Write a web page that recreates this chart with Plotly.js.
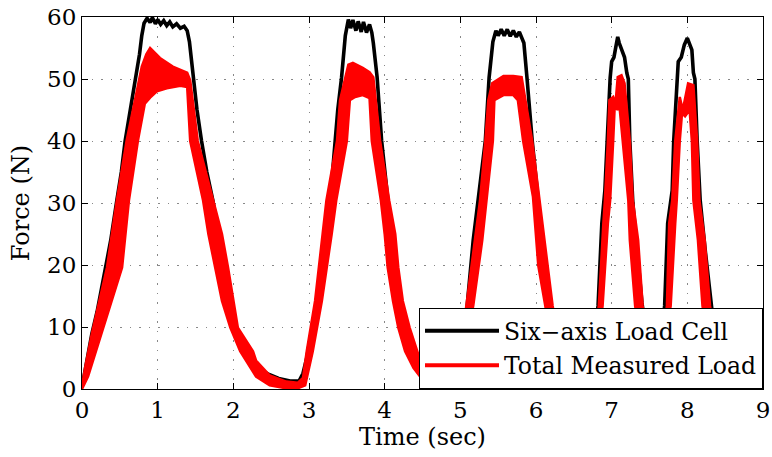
<!DOCTYPE html>
<html>
<head>
<meta charset="utf-8">
<script src="https://cdn.plot.ly/plotly-3.0.1.min.js"></script>
<style>html,body{margin:0;padding:0;background:#fff;}#chart{width:772px;height:457px;}</style>
</head>
<body>
<div id="chart"></div>
<script>
// Series names
const seriesNames = ['Six\u2212axis Load Cell', 'Total Measured Load'];

// Six-axis load cell (black) — time (s) and force (N)
const blackT = [0,0.04,0.08,0.13,0.2,0.3,0.38,0.46,0.52,0.57,0.64,0.71,0.76,0.79,0.82,0.86,
  0.9,0.93,0.97,1.0,1.04,1.08,1.12,1.16,1.2,1.25,1.3,1.35,1.39,
  1.42,1.47,1.52,1.58,1.65,1.73,1.8,1.87,1.95,2.02,2.1,2.18,2.3,2.48,2.6,2.75,2.87,2.92,
  2.97,3.02,3.06,3.1,3.14,3.19,3.23,3.28,3.34,3.38,3.43,3.48,3.52,
  3.55,3.58,3.62,3.65,3.69,3.72,3.76,3.8,3.83,
  3.85,3.9,3.96,4.05,4.1,4.16,4.22,4.3,4.38,4.45,4.55,4.7,4.85,4.95,5.02,
  5.09,5.17,5.25,5.33,5.38,5.43,5.47,
  5.5,5.54,5.58,5.62,5.66,5.7,5.74,5.78,5.81,
  5.84,5.88,5.95,6.03,6.1,6.17,6.22,6.3,6.4,6.55,6.68,6.75,
  6.82,6.87,6.91,6.94,6.98,7.0,7.03,7.06,7.08,7.1,7.13,7.17,7.2,7.22,7.24,7.28,7.34,7.4,7.45,7.5,7.58,7.63,7.68,
  7.7,7.74,7.8,7.82,7.86,7.88,7.92,7.96,8.0,8.03,8.06,8.08,8.1,8.13,8.17,8.24,8.31,8.36,8.42,8.5,8.6];
const blackF = [0.3,2.8,5.2,8.9,12.5,18.5,24,30.4,35,40,45,50,54,57,59,59.8,
  59.1,59.9,58.9,59.6,58.8,59.4,58.6,59.2,58.4,58.9,58.2,58.5,57.8,
  56,50,45,40,35,30.4,25,20,15,10,7,5,3.5,2.3,1.7,1.3,1.3,2.5,
  5,8.5,11.5,14,17,22,25,30.4,40,45,50.2,57,59.6,
  58.2,59.5,57.8,59.3,57.6,59.2,57.5,58.8,57.5,
  55.8,50.3,40,30.4,24,19,14,9.5,6,3.5,2,1.2,1,3,8,
  13.4,24,32,40,50.2,56,57.8,
  57,58,57,58,56.9,57.8,56.8,57.6,56.8,
  55.8,50.3,40,30.4,22,15,11,6,3,1.5,2,6,
  13.4,26.7,32,40,50.2,52.8,53.5,55.5,56.8,55.8,54.7,53.5,51,50,40,30,22,14,9,5,3,5,11,
  13.4,26.7,32,40,50.2,52.8,53.5,55.5,56.6,55.5,54.7,51,50,40,30.4,22,14,9,5,2,1];

// Total measured load (red) — upper and lower edges of the oscillating band
const redUpperT = [0,0.04,0.13,0.33,0.46,0.59,0.7,0.79,0.85,0.9,1.03,1.2,1.39,1.43,
  1.53,1.74,1.85,1.93,2.0,2.06,2.26,2.3,2.48,2.7,2.85,2.92,
  2.97,3.08,3.18,3.23,3.37,3.41,3.52,3.58,3.71,3.8,3.85,
  3.94,4.06,4.14,4.18,4.24,4.33,4.43,4.5,4.7,4.9,5.0,
  5.08,5.19,5.26,5.33,5.37,5.42,5.48,5.57,5.7,5.81,
  5.95,6.04,6.16,6.22,6.3,6.4,6.55,6.7,6.78,
  6.83,6.89,6.91,6.95,6.97,7.02,7.05,7.08,7.13,7.17,
  7.24,7.28,7.35,7.41,7.5,7.6,7.68,
  7.73,7.76,7.8,7.84,7.9,7.94,8.01,8.08,
  8.13,8.16,8.23,8.3,8.38,8.5,8.6];
const redUpperF = [0.5,3.4,8.9,19.6,30.4,40.1,46.6,52,54,55,53.4,52,51,49.8,
  40,30.4,25,19.6,14.2,9.9,6.1,4.6,2.2,1.2,1.0,1.8,
  6.1,14.2,25,30.4,40,46.6,52.3,52.6,51.8,51.1,50.3,
  40,30.4,25,19.6,14.2,9.9,6.1,3.5,1.5,1.5,6,
  13.4,24,30.4,40,46.6,49.3,49.8,50.5,50.5,50.3,
  40,31,19.9,13.4,8,4,2,3,9,
  13.4,26.7,30.4,40,46.6,47.1,46,50.3,50.6,49.3,
  40,30.4,24,13.4,7,4,9,
  13.4,26.7,30.4,40,47.1,45,49.3,49,
  40,30.4,24,13.4,7,3,1];
const redLowerT = [0,0.08,0.26,0.4,0.53,0.62,0.74,0.83,0.9,0.99,1.12,1.3,1.39,
  1.43,1.6,1.67,1.76,1.85,1.96,2.09,2.3,2.48,2.7,2.85,2.95,
  3.05,3.17,3.3,3.36,3.5,3.54,3.61,3.71,3.8,
  3.83,3.95,4.0,4.04,4.11,4.18,4.27,4.38,4.5,4.7,4.9,5.05,
  5.17,5.29,5.35,5.43,5.45,5.57,5.7,5.76,
  5.83,5.96,6.03,6.12,6.2,6.3,6.5,6.7,6.8,
  6.88,6.95,6.98,7.02,7.04,7.08,7.1,
  7.15,7.22,7.24,7.31,7.4,7.55,7.65,
  7.78,7.84,7.86,7.9,7.93,7.97,8.03,
  8.06,8.08,8.14,8.2,8.3,8.45,8.6];
const redLowerF = [0,2,8.9,14.5,19.6,30.4,40.1,46,47,48,48.5,48.9,48.7,
  40,30.4,25,19.6,14.2,9.9,6.1,2.0,0.6,0.1,0.1,0.6,
  6.1,14.2,25,30.4,40,46.6,47.1,47.4,46.9,
  40,30.4,25,19.6,14.2,9.9,6.1,3.4,1.5,0.5,0.8,6,
  13.4,24,30.4,40,46.6,47.4,47.4,46.6,
  40,31,19.9,13.4,8,4,1,1.5,6,
  13.4,26.7,30.4,40,45.5,45,46,
  40,30.4,24,13.4,7,2,4,
  13.4,26.7,30.4,40,44.5,44,45,
  40,30.4,24,13.4,6,2,0.5];

const seriesColors = ['#000000', '#ff0000'];

const bandX = redUpperT.concat(redLowerT.slice().reverse());
const bandY = redUpperF.concat(redLowerF.slice().reverse());

const fontFam = 'DejaVu Serif';

const traces = [
  {x: blackT, y: blackF, type: 'scatter', mode: 'lines', showlegend: false,
   line: {color: seriesColors[0], width: 3.6}, hoverinfo: 'skip'},
  {x: bandX, y: bandY, type: 'scatter', mode: 'lines', fill: 'toself', fillcolor: seriesColors[1],
   showlegend: false, line: {color: seriesColors[1], width: 2.5}, hoverinfo: 'skip'},
  {x: [null], y: [null], type: 'scatter', mode: 'lines', name: seriesNames[0],
   legendgroup: 'a', line: {color: seriesColors[0], width: 4}},
  {x: [null], y: [null], type: 'scatter', mode: 'lines', name: seriesNames[1],
   legendgroup: 'b', line: {color: seriesColors[1], width: 4}}
];

const axisCommon = {
  showline: true, linecolor: '#000', linewidth: 1, mirror: 'allticks',
  ticks: 'inside', ticklen: 6, tickcolor: '#000', tickwidth: 1,
  showgrid: true, gridcolor: '#888', gridwidth: 1, griddash: '1.5px,8px',
  zeroline: false, fixedrange: true,
  tickfont: {family: fontFam, size: 23, color: '#000'}
};

const layout = {
  width: 772, height: 457,
  margin: {l: 82, r: 9, t: 17, b: 68},
  paper_bgcolor: '#fff', plot_bgcolor: '#fff',
  font: {family: fontFam, color: '#000'},
  xaxis: Object.assign({}, axisCommon, {range: [0, 9], dtick: 1, tick0: 0,
    title: {text: 'Time (sec)', font: {family: fontFam, size: 24, color: '#000'}, standoff: 5}}),
  yaxis: Object.assign({}, axisCommon, {range: [0, 60], dtick: 10, tick0: 0,
    title: {text: 'Force (N)', font: {family: fontFam, size: 24, color: '#000'}, standoff: 10}}),
  legend: {x: 1, y: 0, xanchor: 'right', yanchor: 'bottom', bgcolor: '#fff',
    bordercolor: '#000', borderwidth: 1, traceorder: 'grouped', tracegroupgap: 1,
    itemwidth: 74,
    font: {family: fontFam, size: 23.5, color: '#000'}},
  showlegend: true
};

Plotly.newPlot('chart', traces, layout, {displayModeBar: false, staticPlot: true});
</script>
</body>
</html>
